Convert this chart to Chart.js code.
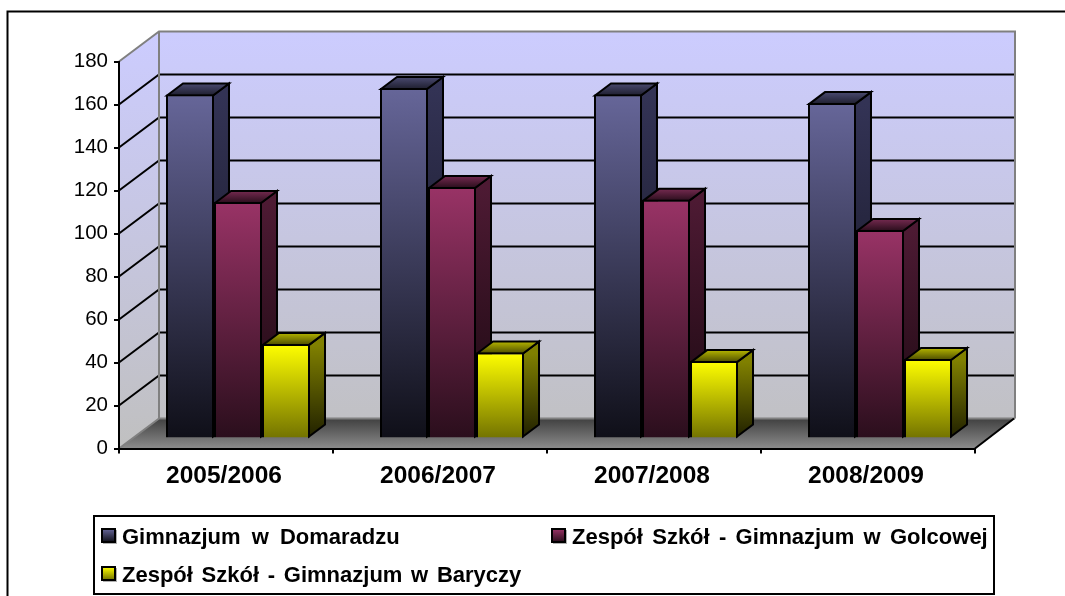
<!DOCTYPE html>
<html>
<head>
<meta charset="utf-8">
<title>Gimnazja</title>
<script src="https://cdn.jsdelivr.net/npm/chart.js@4"></script>
<style>
    html, body { margin: 0; padding: 0; background: #fff; overflow: hidden; }
    canvas { display: block; }
</style>
</head>
<body>
<canvas id="myChart" width="1065" height="596"></canvas>
<script>
const categories = ['2005/2006', '2006/2007', '2007/2008', '2008/2009'];
const seriesNames = ['Gimnazjum w Domaradzu', 'Zespół Szkół - Gimnazjum w Golcowej', 'Zespół Szkół - Gimnazjum w Baryczy'];
const domaradz = [160, 163, 160, 156];
const golcowa = [110, 117, 111, 97];
const barycz = [44, 40, 36, 37];

// colours per series: front top, front bottom, side top, side bottom, roof back, roof front
const palette = [
    ['#666699', '#0f0f18', '#333355', '#10101a', '#4a4a70', '#1e1e2e'],
    ['#993366', '#2a0e1c', '#4d1a33', '#1a0810', '#752a50', '#2a0e1c'],
    ['#ffff00', '#727200', '#808000', '#222200', '#b5b500', '#4d4d00']
];

const wallDx = 40, wallDy = -30;   // depth of the walls
const barDx = 12, barDy = -10;     // bars stand in the middle of the floor
const sideDx = 16, sideDy = -12;   // depth of one bar

function vGrad(ctx, y0, y1, c0, c1) {
    const g = ctx.createLinearGradient(0, y0, 0, y1);
    g.addColorStop(0, c0);
    g.addColorStop(1, c1);
    return g;
}

// front face of a bar goes from its own top to the floor
function frontFill(s) {
    return function (c) {
        const y = c.chart.scales.y;
        if (c.raw === undefined || !y) return palette[s][0];
        const y0 = y.getPixelForValue(c.raw), y1 = y.getPixelForValue(0);
        if (!isFinite(y0) || !isFinite(y1)) return palette[s][0];
        return vGrad(c.chart.ctx, y0, y1, palette[s][0], palette[s][1]);
    };
}

function poly(ctx, pts, fill, stroke, width) {
    ctx.beginPath();
    pts.forEach((p, i) => i == 0 ? ctx.moveTo(p[0], p[1]) : ctx.lineTo(p[0], p[1]));
    ctx.closePath();
    if (fill) { ctx.fillStyle = fill; ctx.fill(); }
    if (stroke) { ctx.strokeStyle = stroke; ctx.lineWidth = width; ctx.stroke(); }
}

const walls = {
    id: 'walls',
    beforeDraw(chart) {
        const ctx = chart.ctx, a = chart.chartArea, y = chart.scales.y;
        const l = a.left, r = a.right, t = a.top, b = a.bottom;
        ctx.save();
        ctx.fillStyle = '#fff';
        ctx.fillRect(0, 0, chart.width, chart.height);

        // outer frame runs off the right and bottom of the picture
        ctx.strokeStyle = '#000';
        ctx.lineWidth = 2;
        ctx.strokeRect(7.5, 11.5, 1100, 700);

        const wallFill = vGrad(ctx, t + wallDy, b, '#ccccff', '#c0c0c0');
        poly(ctx, [[l + wallDx, t + wallDy], [r + wallDx, t + wallDy], [r + wallDx, b + wallDy], [l + wallDx, b + wallDy]], wallFill);
        poly(ctx, [[l, t], [l + wallDx, t + wallDy], [l + wallDx, b + wallDy], [l, b]], wallFill);

        // floor
        poly(ctx, [[l, b], [l + wallDx, b + wallDy], [r + wallDx, b + wallDy], [r, b]],
            vGrad(ctx, b + wallDy, b, '#404040', '#8c8c8c'));

        // grid lines fold along the side wall and the back wall
        ctx.strokeStyle = '#000';
        ctx.lineWidth = 2;
        y.ticks.forEach((tick, i) => {
            if (tick.value == 0 || tick.value == y.max) return;
            const py = y.getPixelForTick(i);
            ctx.beginPath();
            ctx.moveTo(l, py);
            ctx.lineTo(l + wallDx, py + wallDy);
            ctx.lineTo(r + wallDx - 1, py + wallDy);
            ctx.stroke();
        });

        // grey edges of the walls
        ctx.strokeStyle = '#808080';
        ctx.lineWidth = 2;
        ctx.beginPath();
        ctx.moveTo(l, t);
        ctx.lineTo(l + wallDx, t + wallDy);
        ctx.lineTo(r + wallDx, t + wallDy);
        ctx.lineTo(r + wallDx, b + wallDy);
        ctx.moveTo(l + wallDx, t + wallDy);
        ctx.lineTo(l + wallDx, b + wallDy);
        ctx.lineTo(l, b);
        ctx.moveTo(l + wallDx, b + wallDy);
        ctx.lineTo(r + wallDx, b + wallDy);
        ctx.stroke();

        // right edge of the floor
        ctx.strokeStyle = '#000';
        ctx.beginPath();
        ctx.moveTo(r, b);
        ctx.lineTo(r + wallDx - 1, b + wallDy);
        ctx.stroke();
        ctx.restore();
    }
};

const bars3d = {
    id: 'bars3d',
    beforeDatasetsDraw(chart) {
        const ctx = chart.ctx;
        ctx.save();
        ctx.translate(barDx, barDy);
        ctx.lineJoin = 'miter';
        categories.forEach((cat, i) => {
            chart.data.datasets.forEach((ds, s) => {
                const bar = chart.getDatasetMeta(s).data[i];
                const right = bar.x + bar.width / 2 - 1;
                const left = bar.x - bar.width / 2 + 1;
                const top = bar.y + 1;
                const base = bar.base - 1;
                const c = palette[s];
                poly(ctx, [[right, top], [right + sideDx, top + sideDy], [right + sideDx, base + sideDy], [right, base]],
                    vGrad(ctx, top, base, c[2], c[3]), '#000', 2);
                poly(ctx, [[left, top], [left + sideDx, top + sideDy], [right + sideDx, top + sideDy], [right, top]],
                    vGrad(ctx, top + sideDy, top, c[4], c[5]), '#000', 2);
                bar.draw(ctx);
            });
        });
        ctx.restore();
        return false;
    }
};

// legend sits in a bordered box with two columns, as a table would
const legendBox = {
    id: 'legendBox',
    afterDraw(chart) {
        const ctx = chart.ctx;
        ctx.save();
        ctx.fillStyle = '#fff';
        ctx.fillRect(94, 516, 900, 78);
        ctx.strokeStyle = '#000';
        ctx.lineWidth = 2;
        ctx.strokeRect(94, 516, 900, 78);
        ctx.font = 'bold 22px "Liberation Sans", Arial, sans-serif';
        ctx.textBaseline = 'alphabetic';
        ctx.textAlign = 'left';
        const cells = [[102, 544], [552, 544], [102, 582]];
        const gaps = ['5px', '3.2px', '2.6px'];
        chart.data.datasets.forEach((ds, s) => {
            const x = cells[s][0], y = cells[s][1];
            const my = y - 15;
            ctx.fillStyle = '#b0b0b0';
            ctx.fillRect(x + 1, my + 1, 14, 14);
            ctx.fillStyle = vGrad(ctx, my, my + 13, palette[s][0], palette[s][1]);
            ctx.fillRect(x, my, 13, 13);
            ctx.strokeStyle = '#000';
            ctx.lineWidth = 2;
            ctx.strokeRect(x, my, 13, 13);
            ctx.fillStyle = '#000';
            ctx.wordSpacing = gaps[s];
            ctx.fillText(ds.label, x + 20, y);
        });
        ctx.restore();
    }
};

const seriesValues = [domaradz, golcowa, barycz];

new Chart(document.getElementById('myChart').getContext('2d'), {
    type: 'bar',
    data: {
        labels: categories,
        datasets: seriesNames.map((name, s) => ({
            label: name,
            data: seriesValues[s],
            backgroundColor: frontFill(s),
            borderColor: '#000',
            borderWidth: 2,
            barPercentage: 1,
            categoryPercentage: 0.673
        }))
    },
    options: {
        responsive: false,
        animation: false,
        layout: { padding: { left: 59, right: 90, top: 61.5, bottom: 87.5 } },
        plugins: { legend: { display: false }, tooltip: { enabled: false } },
        scales: {
            x: {
                afterFit: s => { s.height = 60; },
                border: { color: '#000', width: 2 },
                grid: { drawOnChartArea: false, color: '#000', lineWidth: 2, tickLength: 5 },
                ticks: { color: '#000', padding: 8, labelOffset: -2, font: { family: '"Liberation Sans", Arial, sans-serif', size: 24.5, weight: 'bold' } }
            },
            y: {
                min: 0,
                max: 180,
                afterFit: s => { s.width = 60; },
                border: { color: '#000', width: 2 },
                grid: { drawOnChartArea: false, color: '#000', lineWidth: 2, tickLength: 5 },
                ticks: { stepSize: 20, color: '#000', padding: 6, font: { family: '"Liberation Sans", Arial, sans-serif', size: 20.5 } }
            }
        }
    },
    plugins: [walls, bars3d, legendBox]
});
</script>
</body>
</html>
